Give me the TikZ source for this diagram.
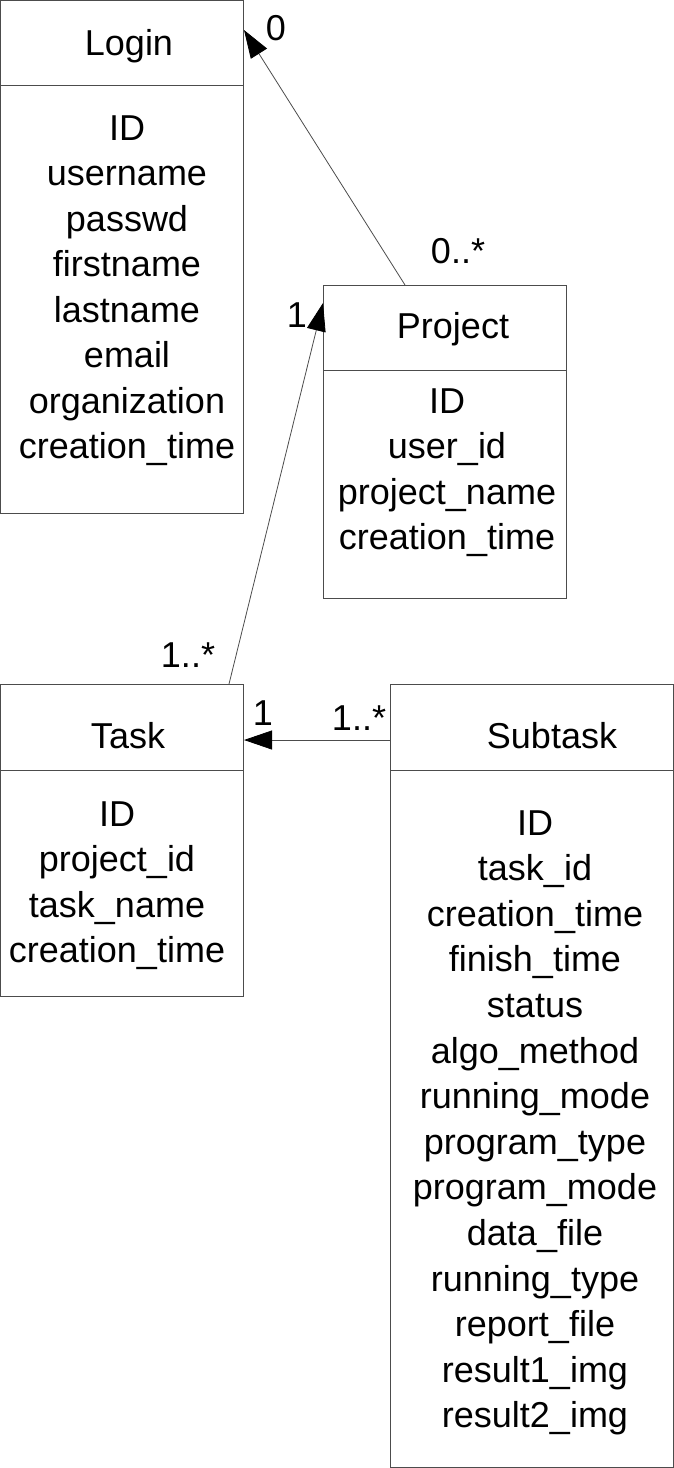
\documentclass[tikz,border=0pt]{standalone}
\usepackage{fontspec}
\setmainfont{Liberation Sans}
\usetikzlibrary{arrows.meta,calc}
\tikzset{
    class box/.style={
        draw=black!70,
        line width=1pt,
        inner sep=0pt,
        anchor=north west
    },
    class divider/.style={
        draw=black!70,
        line width=1pt
    },
    class text/.style={
        anchor=base,
        inner sep=0pt,
        font=\fontsize{36}{36}\selectfont
    },
    association/.style={
        draw=black!70,
        line width=0.8pt,
        -{Triangle[length=28pt,width=19pt,color=black]}
    }
}

\begin{document}
\begin{tikzpicture}[x=1pt,y=-1pt]
    \useasboundingbox (0,0) rectangle (674,1468);
    % classes
    \node[class box, minimum width=243pt, minimum height=513pt] (login) at (0,0) {};
    \node[class box, minimum width=243pt, minimum height=313pt] (project) at (323,285) {};
    \node[class box, minimum width=243pt, minimum height=312pt] (task) at (0,684) {};
    \node[class box, minimum width=283pt, minimum height=783pt] (subtask) at (390,684) {};
    \draw[class divider] (login.north west) ++(0,85) -- ++(243,0);
    \draw[class divider] (project.north west) ++(0,85) -- ++(243,0);
    \draw[class divider] (task.north west) ++(0,86) -- ++(243,0);
    \draw[class divider] (subtask.north west) ++(0,86) -- ++(283,0);
    \node[class text] (login-name) at (129,55) {Login};
    \node[class text] (project-name) at (453,338) {Project};
    \node[class text] (task-name) at (128,748) {Task};
    \node[class text] (subtask-name) at (552,748) {Subtask};
    \foreach \f [count=\i] in {ID,username,passwd,firstname,lastname,email,organization,creation\_time}
        \node[class text] (login-f\i) at (127,{140+45.5*(\i-1)}) {\f};
    \foreach \f [count=\i] in {ID,user\_id,project\_name,creation\_time}
        \node[class text] (project-f\i) at (447,{413+45.6*(\i-1)}) {\f};
    \foreach \f [count=\i] in {ID,project\_id,task\_name,creation\_time}
        \node[class text] (task-f\i) at (117,{826+45.6*(\i-1)}) {\f};
    \foreach \f [count=\i] in {ID,task\_id,creation\_time,finish\_time,status,algo\_method,running\_mode,program\_type,program\_mode,data\_file,running\_type,report\_file,result1\_img,result2\_img}
        \node[class text] (subtask-f\i) at (535,{835+45.6*(\i-1)}) {\f};
    % associations
    \draw[association] ($(project.north west)+(82,0)$) -- ($(login.north east)+(0,30)$);
    \draw[association] ($(task.north west)+(229,0)$) -- ($(project.north west)+(0,18)$);
    \draw[association] ($(subtask.north west)+(0,56)$) -- ($(task.north east)+(0,56)$);
    \node[class text] (m-login) at (276,40) {0};
    \node[class text] (m-project-user) at (458,263) {0..*};
    \node[class text] (m-project) at (297,327) {1};
    \node[class text] (m-task-project) at (188,667) {1..*};
    \node[class text] (m-task) at (263,725) {1};
    \node[class text] (m-subtask) at (359,730) {1..*};
\end{tikzpicture}
\end{document}
